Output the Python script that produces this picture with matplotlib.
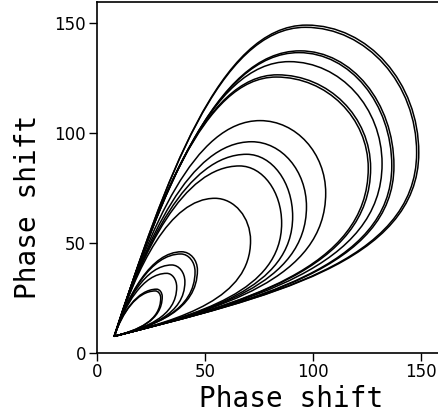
import numpy as np
import matplotlib
matplotlib.use("Agg")
import matplotlib.pyplot as plt
from matplotlib.path import Path
from matplotlib.patches import PathPatch

# common start point of every loop
origin = (8.0, 7.6)

# loops: top point (tx, ty) and rightmost point (rx, ry)
top_x   = [27.0, 27.6, 32.3, 34.6, 38.8, 39.2, 54.6, 66.0, 69.3, 71.6, 75.5,
           83.0, 83.5, 89.0, 93.5, 94.0, 96.5, 97.0]
top_y   = [28.2, 29.0, 36.2, 40.0, 45.0, 46.0, 70.3, 85.0, 90.3, 96.0, 105.6,
           125.4, 126.4, 132.4, 136.5, 137.3, 148.0, 149.0]
right_x = [29.5, 30.2, 36.9, 40.7, 45.4, 46.5, 71.1, 85.5, 90.6, 97.0, 105.9,
           125.6, 126.7, 132.0, 136.5, 137.5, 148.0, 149.0]
right_y = [25.0, 25.6, 30.0, 32.4, 37.0, 37.7, 51.0, 59.0, 62.0, 66.5, 72.7,
           84.0, 84.0, 86.0, 85.0, 85.0, 91.0, 91.0]


def loop_path(tx, ty, rx, ry):
    ox, oy = origin
    verts = [
        (ox, oy),
        # upper edge: leaves the origin steeply, flat at the top
        (ox + 0.5 * (ty - oy) / 3.0, oy + 0.5 * (ty - oy)),
        (tx - 0.45 * (tx - ox), ty),
        (tx, ty),
        # top to rightmost point
        (tx + 0.55 * (rx - tx), ty),
        (rx, ry + 0.55 * (ty - ry)),
        (rx, ry),
        # lower edge back to the origin
        (rx, ry - 0.6 * (ry - oy)),
        (ox + 0.5 * (rx - ox), oy + 0.5 * (rx - ox) * 0.25),
        (ox, oy),
    ]
    codes = [Path.MOVETO] + [Path.CURVE4] * 9
    return Path(verts, codes)


fig = plt.figure(figsize=(4.38, 4.16), dpi=100)
ax = fig.add_axes([97 / 438, 63 / 416, 341 / 438, 351 / 416])

for tx, ty, rx, ry in zip(top_x, top_y, right_x, right_y):
    ax.add_patch(PathPatch(loop_path(tx, ty, rx, ry), facecolor="none",
                           edgecolor="black", lw=1.1, capstyle="round",
                           joinstyle="round"))

ax.set_xlim(0, 157.9)
ax.set_ylim(0, 159.5)
ax.set_xticks([0, 50, 100, 150])
ax.set_yticks([0, 50, 100, 150])
ax.tick_params(direction="out", length=6, width=1, labelsize=12, pad=2)
ax.tick_params(axis="x", pad=1.5)
ax.spines["right"].set_visible(False)
for s in ["left", "bottom", "top"]:
    ax.spines[s].set_linewidth(1.2)

ax.set_xlabel("Phase shift", fontsize=20, family="DejaVu Sans Mono")
ax.set_ylabel("Phase shift", fontsize=20, family="DejaVu Sans Mono")
ax.xaxis.label.set_va("baseline")
ax.xaxis.set_label_coords(0.569, -0.155)
ax.yaxis.set_label_coords(-0.16, 0.416)

fig.savefig("out.png", dpi=100)
